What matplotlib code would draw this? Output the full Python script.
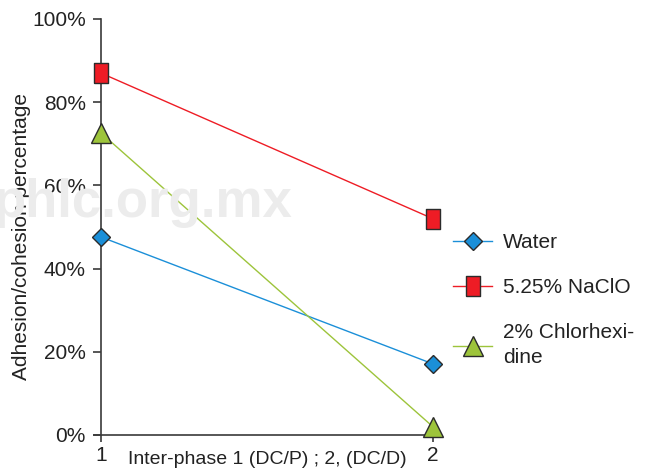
import matplotlib
matplotlib.use('Agg')
from matplotlib import pyplot as _plt

_plt.rcParams['font.family'] = ['Liberation Sans', 'DejaVu Sans']

phases = [1, 2]
water = [47.6, 17.1]
naclo = [87.0, 52.0]
chlorhex = [72.6, 2.0]
y_ticks = [0, 20, 40, 60, 80, 100]

blue = '#1b8fd8'
red = '#ee1c25'
green = '#9dc43b'
edge = '#2b2b2b'
txt = '#222222'

# tall rectangle marker for NaClO
rect = [(-0.37, -0.5), (0.37, -0.5), (0.37, 0.5), (-0.37, 0.5), (-0.37, -0.5)]

fig = _plt.figure(figsize=(6.67, 4.69), dpi=100)
ax = fig.add_axes([0.1514, 0.0725, 0.51, 0.887])

# watermark
fig.text(0.215, 0.568, 'phlc.org.mx', fontsize=38, fontweight='bold',
         color='#ececec', ha='center', va='center', zorder=0)

ax.plot(phases, water, color=blue, lw=1, marker='D', markersize=9,
        markerfacecolor=blue, markeredgecolor=edge, markeredgewidth=1,
        label='Water', clip_on=False, zorder=3)
ax.plot(phases, naclo, color=red, lw=1, marker=rect, markersize=14.5,
        markerfacecolor=red, markeredgecolor=edge, markeredgewidth=1,
        label='5.25% NaClO', clip_on=False, zorder=3)
ax.plot(phases, chlorhex, color=green, lw=1, marker='^', markersize=14,
        markerfacecolor=green, markeredgecolor=edge, markeredgewidth=1,
        label='2% Chlorhexi-\ndine', clip_on=False, zorder=3)

ax.set_xlim(1, 2.025)
ax.set_ylim(0, 100)
ax.set_yticks(y_ticks)
ax.set_yticklabels(['{}%'.format(t) for t in y_ticks])
ax.set_xticks(phases)
ax.set_xticklabels(['1', '2'])
ax.patch.set_alpha(0)

for s in ['top', 'right']:
    ax.spines[s].set_visible(False)
for s in ['left', 'bottom']:
    ax.spines[s].set_color('#3a3a3a')
    ax.spines[s].set_linewidth(1.2)
ax.spines['bottom'].set_bounds(0.98, 2.025)
ax.tick_params(axis='y', direction='out', length=6, width=1.2, color='#3a3a3a',
               labelsize=15, labelcolor=txt, pad=5)
ax.tick_params(axis='x', direction='out', length=5, width=1.2, color='#3a3a3a',
               labelsize=15, labelcolor=txt, pad=3)

ax.set_ylabel('Adhesion/cohesion percentage', fontsize=15, color=txt, va='center')
ax.yaxis.set_label_coords(-0.235, 0.476)
ax.set_xlabel('Inter-phase 1 (DC/P) ; 2, (DC/D)', fontsize=14, color=txt, va='center')
ax.xaxis.set_label_coords(0.49, -0.06)

leg = ax.legend(loc='upper left', bbox_to_anchor=(1.01, 0.505), frameon=False,
                fontsize=15, handlelength=1.9, labelspacing=1.25, handletextpad=0.5,
                borderaxespad=0)
for t in leg.get_texts():
    t.set_color(txt)
    t.set_linespacing(1.4)

fig.savefig('out.png', dpi=100)
